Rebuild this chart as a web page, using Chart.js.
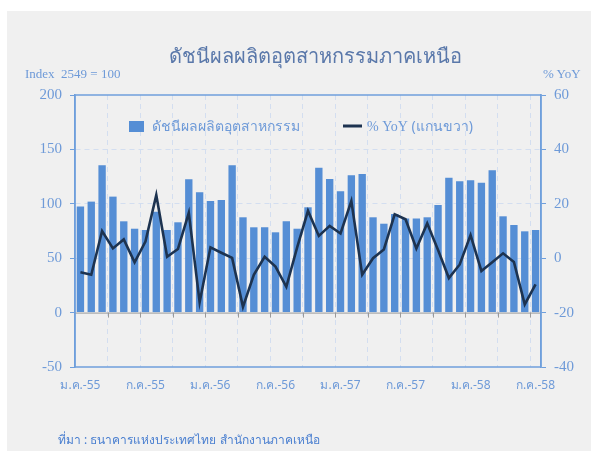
<!DOCTYPE html>
<html>
<head>
<meta charset="utf-8">
<script src="https://cdn.jsdelivr.net/npm/chart.js@4.4.7/dist/chart.umd.min.js"></script>
<style>
  html, body { margin: 0; padding: 0; background: #fff; }
  #wrap { position: relative; width: 591px; height: 451px; overflow: hidden; }
  #panel { position: absolute; left: 7px; top: 11px; width: 584px; height: 440px; background: #f0f0f0; }
  #cv { position: absolute; left: 0; top: 0; }
  .txt { position: absolute; white-space: nowrap; color: #6e9ad8; }
  #title { left: 0; width: 630px; top: 40px; text-align: center; font: 20px "Noto Sans", sans-serif; color: #5a78aa; }
  #unitL { left: 25px; top: 66px; font: 13px "Liberation Serif", serif; }
  #unitR { left: 543px; top: 66px; font: 13px "Liberation Serif", serif; }
  #source { left: 58px; top: 430px; font: 12px "Noto Sans", sans-serif; color: #4a7fd0; }
</style>
</head>
<body>
<div id="wrap">
  <div id="panel"></div>
  <canvas id="cv" width="591" height="451"></canvas>
  <div class="txt" id="title">ดัชนีผลผลิตอุตสาหกรรมภาคเหนือ</div>
  <div class="txt" id="unitL">Index&nbsp;&nbsp;2549 = 100</div>
  <div class="txt" id="unitR">% YoY</div>
  <div class="txt" id="source">ที่มา : ธนาคารแห่งประเทศไทย สำนักงานภาคเหนือ</div>
</div>
<script>
const months = [
  'ม.ค.-55', 'ก.พ.-55', 'มี.ค.-55', 'เม.ย.-55', 'พ.ค.-55', 'มิ.ย.-55', 'ก.ค.-55', 'ส.ค.-55', 'ก.ย.-55', 'ต.ค.-55', 'พ.ย.-55', 'ธ.ค.-55',
  'ม.ค.-56', 'ก.พ.-56', 'มี.ค.-56', 'เม.ย.-56', 'พ.ค.-56', 'มิ.ย.-56', 'ก.ค.-56', 'ส.ค.-56', 'ก.ย.-56', 'ต.ค.-56', 'พ.ย.-56', 'ธ.ค.-56',
  'ม.ค.-57', 'ก.พ.-57', 'มี.ค.-57', 'เม.ย.-57', 'พ.ค.-57', 'มิ.ย.-57', 'ก.ค.-57', 'ส.ค.-57', 'ก.ย.-57', 'ต.ค.-57', 'พ.ย.-57', 'ธ.ค.-57',
  'ม.ค.-58', 'ก.พ.-58', 'มี.ค.-58', 'เม.ย.-58', 'พ.ค.-58', 'มิ.ย.-58', 'ก.ค.-58',
];
const indexValues = [
  97.5, 102, 135.4, 106.6, 83.9, 77.1, 75.9, 92.7, 75.9, 83, 122.6, 110.6,
  102.6, 103.5, 135.4, 87.6, 78.4, 78.4, 73.8, 83.9, 77.1, 96.8, 133.2, 122.8,
  111.5, 126.2, 127.4, 87.6, 81.7, 90.6, 86.5, 86.5, 87.6, 98.9, 124, 120.7,
  121.6, 119.4, 130.8, 88.5, 80.5, 74.7, 75.9,
];
const yoyValues = [
  -5.2, -6.1, 10, 3.6, 6.9, -1.5, 6.1, 23.2, 0.5, 3.4, 16.7, -16.2,
  4, 2, 0.1, -17.9, -6.1, 0.5, -3.1, -10.5, 4, 17.4, 8.2, 11.9,
  9.1, 21, -6.1, 0, 3.2, 16.1, 14.3, 3.6, 12.8, 3, -7.3, -2.3,
  8.5, -4.7, -1.5, 1.8, -1.4, -17, -9.6,
];
const seriesNames = ['ดัชนีผลผลิตอุตสาหกรรม', '% YoY (แกนขวา)'];
const leftTicks = { min: -50, max: 200, step: 50 };
const rightTicks = { min: -40, max: 60, step: 20 };

const axisBlue = '#6f9fdc';
const labelBlue = '#6e9ad8';
const gridBlue = '#d3def0';

// frame, zero line with its tick marks, and the in-plot legend
const decor = {
  id: 'decor',
  beforeDatasetsDraw(chart) {
    const { ctx, chartArea: a, scales } = chart;
    const y0 = scales.y.getPixelForValue(0);
    ctx.save();
    ctx.strokeStyle = '#9a9a9a';
    ctx.lineWidth = 1;
    ctx.beginPath();
    ctx.moveTo(a.left, y0 + 0.5);
    ctx.lineTo(a.right, y0 + 0.5);
    const n = months.length;
    const step = (a.right - a.left) / n;
    for (let i = 3; i < n; i += 3) {
      const x = Math.round(a.left + step * i) + 0.5;
      ctx.moveTo(x, y0);
      ctx.lineTo(x, y0 + 5);
    }
    ctx.stroke();
    ctx.restore();
  },
  afterDatasetsDraw(chart) {
    const { ctx, chartArea: a } = chart;
    ctx.save();
    ctx.strokeStyle = axisBlue;
    ctx.lineWidth = 1.5;
    ctx.strokeRect(a.left, a.top, a.right - a.left, a.bottom - a.top);
    // legend
    const [bars, line] = chart.data.datasets;
    ctx.fillStyle = bars.backgroundColor;
    ctx.fillRect(129, 121, 15, 11);
    ctx.font = '14px "Noto Sans", sans-serif';
    ctx.textBaseline = 'middle';
    ctx.fillStyle = labelBlue;
    ctx.fillText(bars.label, 152, 127);
    ctx.strokeStyle = line.borderColor;
    ctx.lineWidth = 3;
    ctx.beginPath();
    ctx.moveTo(343, 126);
    ctx.lineTo(362, 126);
    ctx.stroke();
    ctx.font = '14px "Liberation Serif", serif';
    ctx.fillText('% YoY', 367, 127);
    const w = ctx.measureText('% YoY ').width;
    ctx.font = '14px "Noto Sans", sans-serif';
    ctx.fillText(line.label.replace('% YoY ', ''), 367 + w, 127);
    ctx.restore();
  },
};

new Chart(document.getElementById('cv'), {
  data: {
    labels: months,
    datasets: [
      {
        type: 'bar', label: seriesNames[0], data: indexValues, yAxisID: 'y',
        backgroundColor: '#558ed5', barPercentage: 0.68, categoryPercentage: 1, order: 1,
      },
      {
        type: 'line', label: seriesNames[1], data: yoyValues, yAxisID: 'y2',
        borderColor: '#1d3350', borderWidth: 2.6, pointRadius: 0, tension: 0, order: 0,
      },
    ],
  },
  options: {
    responsive: false,
    animation: false,
    layout: { padding: { left: 0, right: 0, top: 95, bottom: 54 } },
    plugins: { legend: { display: false }, tooltip: { enabled: false } },
    scales: {
      x: {
        offset: true,
        grid: {
          offset: true, drawTicks: false,
          color: (c) => (c.index > 0 && c.index % 3 === 0 ? gridBlue : 'rgba(0,0,0,0)'),
        },
        border: { display: false, dash: [5, 4] },
        ticks: {
          autoSkip: false, maxRotation: 0, padding: 11, color: labelBlue,
          font: { family: '"Noto Sans", sans-serif', size: 12 },
          callback: (v, i) => (i % 6 === 0 ? months[i] : ''),
        },
        afterFit: (s) => { s.height = 30; },
      },
      y: {
        position: 'left', min: leftTicks.min, max: leftTicks.max,
        ticks: { stepSize: leftTicks.step, padding: 8, color: labelBlue, font: { family: '"Liberation Serif", serif', size: 15 } },
        grid: {
          tickLength: 5, tickColor: axisBlue,
          color: (c) => (c.tick && [50, 100, 150].includes(c.tick.value) ? gridBlue : 'rgba(0,0,0,0)'),
        },
        border: { color: axisBlue, width: 1.5, dash: [5, 4] },
        afterFit: (s) => { s.width = 75; },
      },
      y2: {
        position: 'right', min: rightTicks.min, max: rightTicks.max,
        ticks: { stepSize: rightTicks.step, padding: 8, color: labelBlue, font: { family: '"Liberation Serif", serif', size: 15 } },
        grid: { drawOnChartArea: false, tickLength: 5, tickColor: axisBlue },
        border: { color: axisBlue, width: 1.5 },
        afterFit: (s) => { s.width = 50; },
      },
    },
  },
  plugins: [decor],
});
</script>
</body>
</html>
